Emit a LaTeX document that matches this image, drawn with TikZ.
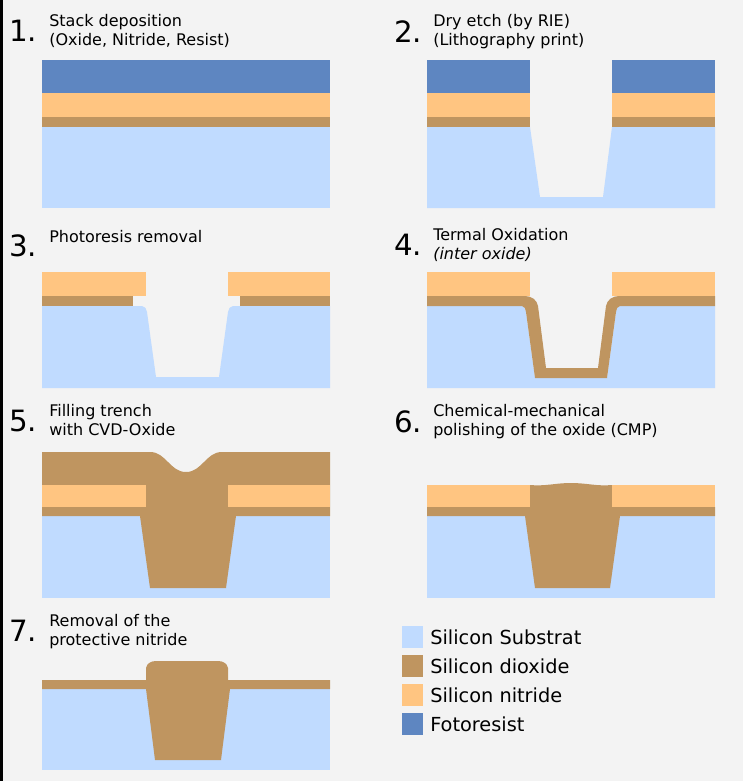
\documentclass[tikz,border=0pt]{standalone}
\usepackage{fontspec}
\setmainfont{DejaVu Sans}
\definecolor{resist}{HTML}{5E86C1}
\definecolor{nitride}{HTML}{FFC581}
\definecolor{oxide}{HTML}{BF9560}
\definecolor{substrate}{HTML}{C0DBFF}
\definecolor{paper}{HTML}{F3F3F3}
\begin{document}
\begin{tikzpicture}[x=0.75pt, y=-0.75pt,
		resist_style/.style={fill=resist},
		nitride_style/.style={fill=nitride},
		oxide_style/.style={fill=oxide},
		sub_style/.style={fill=substrate},
		num_style/.style={anchor=north west, font=\fontsize{22}{22}\selectfont, inner sep=0pt},
		text_style/.style={anchor=north west, align=left, font=\fontsize{12}{14.5}\selectfont, inner sep=0pt},
		key_style/.style={anchor=west, font=\fontsize{14.5}{14.5}\selectfont, inner sep=0pt}]
		
		\fill[paper] (0,0) rectangle (743,781);
		\fill[black] (0,0) rectangle (3,781);
		\useasboundingbox (0,0) rectangle (743,781);
		
		% 1
		\node[num_style] (n1) at (9,20) {1.};
		\node[text_style] (t1) at (49,14) {Stack deposition\\(Oxide, Nitride, Resist)};
		\fill[sub_style] (42,127) rectangle (330,208);
		\fill[oxide_style] (42,117) rectangle (330,127);
		\fill[nitride_style] (42,93) rectangle (330,117);
		\fill[resist_style] (42,60) rectangle (330,93);
		
		% 2
		\node[num_style] (n2) at (394,20) {2.};
		\node[text_style] (t2) at (433,14) {Dry etch (by RIE)\\(Lithography print)};
		\fill[sub_style] (427,127) -- (530,127) -- (540,197) -- (603,197) -- (612,127) -- (715,127) -- (715,208) -- (427,208) -- cycle;
		\foreach \a/\b in {427/530, 612/715} {
			\fill[oxide_style] (\a,117) rectangle (\b,127);
			\fill[nitride_style] (\a,93) rectangle (\b,117);
			\fill[resist_style] (\a,60) rectangle (\b,93);
		}
		
		% 3
		\node[num_style] (n3) at (9,234) {3.};
		\node[text_style] (t3) at (49,230) {Photoresis removal};
		\fill[sub_style] (42,306) -- (142,306) to[out=0,in=100] (147,312) -- (156,377) -- (219,377) -- (228,312) to[out=80,in=180] (233,306) -- (330,306) -- (330,388) -- (42,388) -- cycle;
		\fill[oxide_style] (42,296) rectangle (133,306);
		\fill[oxide_style] (240,296) rectangle (330,306);
		\fill[nitride_style] (42,272) rectangle (146,296);
		\fill[nitride_style] (228,272) rectangle (330,296);
		
		% 4
		\node[num_style] (n4) at (394,234) {4.};
		\node[text_style] (t4) at (433,228) {Termal Oxidation\\\textit{(inter oxide)}};
		\fill[sub_style] (427,306) -- (522,306) to[out=0,in=100] (526,312) -- (535,378) -- (607,378) -- (616,312) to[out=80,in=180] (620,306) -- (715,306) -- (715,388) -- (427,388) -- cycle;
		\fill[oxide_style] (427,296) -- (525,296) to[out=0,in=100] (538,306) -- (546,368) -- (598,368) -- (606,306) to[out=80,in=180] (619,296) -- (715,296) -- (715,306) -- (620,306) to[out=180,in=80] (616,312) -- (607,378) -- (535,378) -- (526,312) to[out=100,in=0] (522,306) -- (427,306) -- cycle;
		\fill[nitride_style] (427,272) rectangle (530,296);
		\fill[nitride_style] (612,272) rectangle (715,296);
		
		% 5
		\node[num_style] (n5) at (9,410) {5.};
		\node[text_style] (t5) at (49,404) {Filling trench\\with CVD-Oxide};
		\fill[sub_style] (42,516) rectangle (330,598);
		\fill[oxide_style] (42,452) -- (150,452) to[out=0,in=180] (186,472) to[out=0,in=180] (222,452) -- (330,452) -- (330,516) -- (236,516) -- (226,588) -- (150,588) -- (140,516) -- (42,516) -- cycle;
		\fill[nitride_style] (42,485) rectangle (146,507);
		\fill[nitride_style] (228,485) rectangle (330,507);
		
		% 6
		\node[num_style] (n6) at (394,410) {6.};
		\node[text_style] (t6) at (433,404) {Chemical-mechanical\\polishing of the oxide (CMP)};
		\fill[sub_style] (427,516) rectangle (715,598);
		\fill[oxide_style] (427,507) -- (530,507) -- (530,485) to[out=-5,in=180] (571,483) to[out=0,in=185] (612,485) -- (612,507) -- (715,507) -- (715,516) -- (620,516) -- (610,588) -- (535,588) -- (525,516) -- (427,516) -- cycle;
		\fill[nitride_style] (427,485) rectangle (530,507);
		\fill[nitride_style] (612,485) rectangle (715,507);
		
		% 7
		\node[num_style] (n7) at (9,620) {7.};
		\node[text_style] (t7) at (49,614) {Removal of the\\protective nitride};
		\fill[sub_style] (42,689) rectangle (330,770);
		\fill[oxide_style] (42,680) -- (146,680) -- (146,668) to[out=80,in=180] (156,661) -- (218,661) to[out=0,in=100] (228,668) -- (228,680) -- (330,680) -- (330,689) -- (230,689) -- (221,760) -- (155,760) -- (146,689) -- (42,689) -- cycle;
		
		% legend
		\foreach \y/\c/\t [count=\i] in {637/substrate/Silicon Substrat, 666/oxide/Silicon dioxide, 695/nitride/Silicon nitride, 724/resist/Fotoresist} {
			\fill[\c] (402,\y-11) rectangle (423,\y+11);
			\node[key_style] (k\i) at (430,\y) {\t};
		}
		
\end{tikzpicture}
\end{document}
